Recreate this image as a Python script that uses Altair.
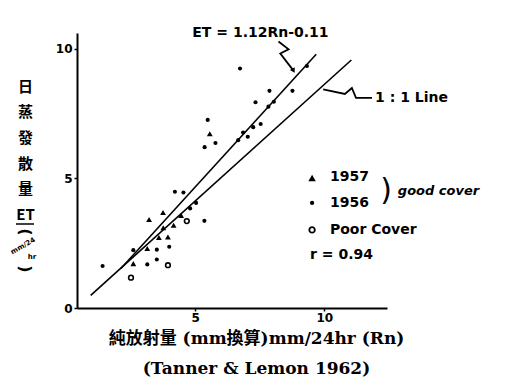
import altair as alt
import pandas as pd

# ---- data ----
rn_1957 = [2.61, 3.15, 3.60, 3.95, 3.77, 4.17, 3.22, 3.76, 4.46, 5.57]
et_1957 = [1.71, 2.29, 2.72, 2.74, 3.09, 3.19, 3.41, 3.68, 3.57, 6.72]

rn_1956 = [1.42, 2.61, 3.15, 3.52, 3.52, 4.00, 4.81, 5.04, 5.36, 4.22, 4.55, 5.37, 5.79,
           5.49, 6.74, 6.67, 6.86, 7.04, 7.25, 7.54, 7.34, 7.88, 7.84, 8.05, 8.77, 9.33]
et_1956 = [1.62, 2.23, 1.68, 1.87, 2.25, 2.36, 3.84, 4.05, 3.36, 4.48, 4.45, 6.20, 6.36,
           7.25, 9.23, 6.47, 6.76, 6.60, 6.97, 7.09, 7.93, 8.37, 7.76, 7.95, 8.37, 9.33]

rn_poor = [2.52, 3.95, 4.68]
et_poor = [1.17, 1.65, 3.35]

# drawn lines (end points as drawn)
fit_rn = [2.13, 9.69]
fit_et = [1.52, 9.78]
one_rn = [0.96, 11.05]
one_et = [0.49, 9.56]

# leader squiggles
fit_lead_rn = [8.23, 8.62, 8.30, 8.81]
fit_lead_et = [10.27, 9.97, 9.81, 9.15]
one_lead_rn = [9.96, 10.80, 11.07, 11.23, 11.85]
one_lead_et = [8.43, 8.25, 8.48, 8.10, 8.10]

x_ticks = [5, 10]
y_ticks = [0, 5, 10]
x_title = ["純放射量 (mm換算)mm/24hr (Rn)", "(Tanner & Lemon 1962)"]
y_title = ["日", "蒸", "發", "散", "量", "ET"]

X_DOM = [0.43, 12.43]
Y_DOM = [0, 10.6]

HAND = "DejaVu Sans"

xs = alt.Scale(domain=X_DOM, nice=False, zero=False)
ys = alt.Scale(domain=Y_DOM, nice=False, zero=False)

X = alt.X("rn:Q", scale=xs, axis=alt.Axis(
    values=x_ticks, format="d", grid=False, domainColor="black", domainWidth=2,
    tickColor="black", tickSize=3, tickWidth=1.5, labelPadding=1,
    labelFont=HAND, labelFontWeight="bold", labelFontSize=12, labelColor="black",
    title=x_title, titleFont="DejaVu Serif, Noto Sans CJK TC", titleFontSize=17,
    titleFontWeight="bold", titleColor="black", titleAlign="center",
    titleBaseline="top", titleX=179, titleY=22, titleLineHeight=30))
Y = alt.Y("et:Q", scale=ys, axis=alt.Axis(
    values=y_ticks, format="d", grid=False, domainColor="black", domainWidth=2,
    tickColor="black", tickSize=3, tickWidth=1.5, labelPadding=2,
    labelFont=HAND, labelFontWeight="bold", labelFontSize=12, labelColor="black",
    title=y_title, titleFont="Noto Sans CJK TC", titleFontSize=15,
    titleFontWeight="bold", titleColor="black", titleAngle=0, titleAlign="center",
    titleBaseline="top", titleX=-52, titleY=46, titleLineHeight=25.7))

lines_df = pd.DataFrame({
    "rn": fit_rn + one_rn,
    "et": fit_et + one_et,
    "g": ["fit"] * len(fit_rn) + ["one"] * len(one_rn),
})
lines = alt.Chart(lines_df).mark_line(color="black", strokeWidth=1.6).encode(
    x=X, y=Y, detail="g:N")

lead_df = pd.DataFrame({
    "rn": fit_lead_rn + one_lead_rn,
    "et": fit_lead_et + one_lead_et,
    "g": ["a"] * len(fit_lead_rn) + ["b"] * len(one_lead_rn),
    "o": list(range(len(fit_lead_rn))) + list(range(len(one_lead_rn))),
})
leads = alt.Chart(lead_df).mark_line(color="black", strokeWidth=1.8).encode(
    x=X, y=Y, detail="g:N", order="o:Q")

arrow_df = pd.DataFrame({"rn": [fit_lead_rn[-1]], "et": [fit_lead_et[-1]]})
arrow = alt.Chart(arrow_df).mark_point(shape="triangle-down", filled=True, color="black",
                                       size=30, opacity=1, angle=330).encode(x=X, y=Y)

tri = alt.Chart(pd.DataFrame({"rn": rn_1957, "et": et_1957})).mark_point(
    shape="triangle-up", filled=True, color="black", size=34, opacity=1).encode(x=X, y=Y)
dots = alt.Chart(pd.DataFrame({"rn": rn_1956, "et": et_1956})).mark_circle(
    color="black", size=17, opacity=1).encode(x=X, y=Y)
poor = alt.Chart(pd.DataFrame({"rn": rn_poor, "et": et_poor})).mark_point(
    shape="circle", filled=False, color="black", strokeWidth=1.6, size=22, opacity=1).encode(x=X, y=Y)

# legend (hand drawn inside the plot)
leg_tri = alt.Chart(pd.DataFrame({"rn": [9.53], "et": [5.01]})).mark_point(
    shape="triangle-up", filled=True, color="black", size=55, opacity=1).encode(x=X, y=Y)
leg_dot = alt.Chart(pd.DataFrame({"rn": [9.53], "et": [4.05]})).mark_circle(
    color="black", size=18, opacity=1).encode(x=X, y=Y)
leg_open = alt.Chart(pd.DataFrame({"rn": [9.53], "et": [3.01]})).mark_point(
    shape="circle", filled=False, color="black", strokeWidth=1.8, size=30, opacity=1).encode(x=X, y=Y)

ann_df = pd.DataFrame({
    "rn": [10.22, 10.22, 10.22, 9.45, 11.97],
    "et": [5.05, 4.05, 3.01, 2.04, 8.10],
    "t": ["1957", "1956", "Poor  Cover", "r = 0.94", "1 : 1  Line"],
})
ann = alt.Chart(ann_df).mark_text(align="left", baseline="middle", font=HAND,
                                  fontWeight="bold", fontSize=14, color="black").encode(
    x=X, y=Y, text="t:N")

brace = alt.Chart(pd.DataFrame({"rn": [12.40], "et": [4.52], "t": [")"]})).mark_text(
    align="center", baseline="middle", font=HAND, fontSize=30, color="black").encode(
    x=X, y=Y, text="t:N")
good = alt.Chart(pd.DataFrame({"rn": [12.85], "et": [4.50], "t": ["good cover"]})).mark_text(
    align="left", baseline="middle", font=HAND, fontWeight="bold", fontStyle="italic",
    fontSize=13, color="black").encode(x=X, y=Y, text="t:N")
eq = alt.Chart(pd.DataFrame({"rn": [7.53], "et": [10.6], "t": ["ET = 1.12Rn-0.11"]})).mark_text(
    align="center", baseline="middle", font=HAND, fontWeight="bold",
    fontSize=14, color="black").encode(x=X, y=Y, text="t:N")

# underline of "ET" and unit of the y title, stacked below it
et_line = alt.Chart(pd.DataFrame({"t": [1]})).mark_rule(color="black", strokeWidth=1.5).encode(
    x=alt.value(-61), x2=alt.value(-43), y=alt.value(191))
unit_top = alt.Chart(pd.DataFrame({"t": ["("]})).mark_text(
    font=HAND, fontSize=16, fontWeight="bold", color="black", angle=90,
    baseline="middle").encode(x=alt.value(-52), y=alt.value(199), text="t:N")
unit_mid = alt.Chart(pd.DataFrame({"t": ["mm/24"]})).mark_text(
    font=HAND, fontSize=7, fontWeight="bold", color="black", angle=330,
    baseline="middle").encode(x=alt.value(-54), y=alt.value(213), text="t:N")
unit_hr = alt.Chart(pd.DataFrame({"t": ["hr"]})).mark_text(
    font=HAND, fontSize=7, fontWeight="bold", color="black",
    baseline="middle").encode(x=alt.value(-45), y=alt.value(224), text="t:N")
unit_bot = alt.Chart(pd.DataFrame({"t": [")"]})).mark_text(
    font=HAND, fontSize=16, fontWeight="bold", color="black", angle=90,
    baseline="middle").encode(x=alt.value(-52), y=alt.value(236), text="t:N")

chart = alt.layer(
    lines, leads, arrow, tri, dots, poor, leg_tri, leg_dot, leg_open,
    ann, brace, good, eq, et_line, unit_top, unit_mid, unit_hr, unit_bot
).properties(
    width=310, height=275,
    autosize=alt.AutoSizeParams(type="none"),
    padding={"left": 77, "top": 33, "right": 120, "bottom": 75},
    background="white",
).configure_view(stroke=None)

chart.save("out.html", embed_options={"renderer": "svg", "actions": False})
